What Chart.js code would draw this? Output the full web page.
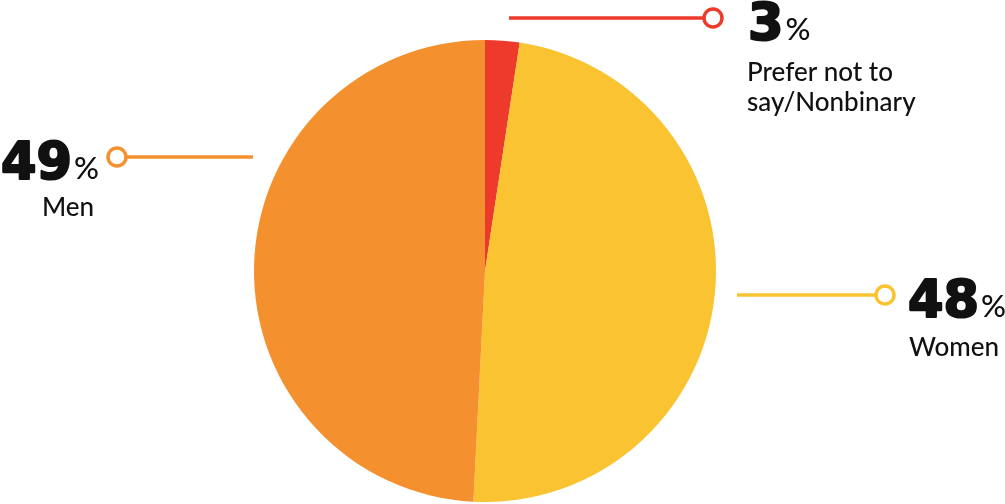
<!DOCTYPE html>
<html>
<head>
<meta charset="utf-8">
<script src="https://cdn.jsdelivr.net/npm/chart.js@4"></script>
<style>
html,body{margin:0;padding:0;background:#fff;}
#wrap{width:1005px;height:504px;position:relative;}
</style>
</head>
<body>
<div id="wrap"><canvas id="c" width="1005" height="504"></canvas></div>
<script>
// Data
const categories = ["Prefer not to say/Nonbinary", "Women", "Men"];
const shares = [2.4, 48.4, 49.2];           // slice sizes as drawn
const percentLabels = ["3", "48", "49"];     // printed percentages
const nameLines = [["Prefer not to", "say/Nonbinary"], ["Women"], ["Men"]];
const colors = ["#EE3A2A", "#F9C332", "#F4902D"];

const calloutPlugin = {
  id: "callouts",
  afterDraw(chart) {
    const ctx = chart.ctx;
    ctx.save();
    const bigFont = "bold 51px 'DejaVu Sans'";
    const pctFont = "500 31px Lato";
    const nameFont = "500 26px Lato";

    function leader(x1, x2, y, cx, color) {
      ctx.strokeStyle = color;
      ctx.lineWidth = 3.5;
      ctx.beginPath();
      ctx.moveTo(x1, y); ctx.lineTo(x2, y); ctx.stroke();
      ctx.beginPath();
      ctx.arc(cx, y, 9, 0, Math.PI * 2);
      ctx.fillStyle = "#fff";
      ctx.fill();
      ctx.stroke();
    }
    function bigNum(text, x, y) {
      ctx.fillStyle = "#111";
      ctx.strokeStyle = "#111";
      ctx.lineWidth = 2.2;
      ctx.lineJoin = "round";
      ctx.textBaseline = "alphabetic";
      ctx.textAlign = "left";
      ctx.font = bigFont;
      ctx.fillText(text, x + 1, y);
      ctx.strokeText(text, x + 1, y);
      const w = ctx.measureText(text).width;
      ctx.font = pctFont;
      ctx.fillText("%", x + w + 3, y);
      return w;
    }
    function nameText(lines, x, y, align, lh) {
      ctx.fillStyle = "#111";
      ctx.font = nameFont;
      ctx.textAlign = align;
      lines.forEach((l, i) => ctx.fillText(l, x, y + i * lh));
      ctx.textAlign = "left";
    }

    // Prefer not to say / Nonbinary
    leader(509, 704, 18, 713, colors[0]);
    bigNum(percentLabels[0], 747, 40);
    nameText(nameLines[0], 747, 81, "left", 30);

    // Women
    leader(737, 876, 295, 885, colors[1]);
    bigNum(percentLabels[1], 907, 317);
    nameText(nameLines[1], 954, 356, "center", 30);

    // Men
    leader(126, 253, 157, 117, colors[2]);
    bigNum(percentLabels[2], 0, 179);
    nameText(nameLines[2], 68, 216, "center", 30);
    ctx.restore();
  }
};

new Chart(document.getElementById("c"), {
  type: "pie",
  data: {
    labels: categories,
    datasets: [{
      data: shares,
      backgroundColor: colors,
      borderWidth: 0
    }]
  },
  options: {
    responsive: false,
    animation: false,
    devicePixelRatio: 1,
    rotation: 0,
    layout: { padding: { left: 254, right: 289, top: 40, bottom: 2 } },
    plugins: {
      legend: { display: false },
      tooltip: { enabled: false }
    }
  },
  plugins: [calloutPlugin]
});
</script>
</body>
</html>
